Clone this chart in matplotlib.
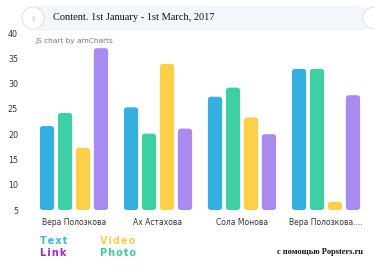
import numpy as np
import matplotlib.pyplot as plt
from matplotlib.patches import FancyBboxPatch, Ellipse

# data
authors = ['Вера Полозкова', 'Ах Астахова', 'Сола Монова', 'Вера Полозкова....']
series = ['Text', 'Photo', 'Video', 'Link']
text_vals = [21.6, 25.3, 27.4, 32.9]
photo_vals = [24.2, 20.1, 29.2, 32.9]
video_vals = [17.3, 33.9, 23.3, 6.6]
link_vals = [37.0, 21.1, 20.0, 27.7]
yticks = [5, 10, 15, 20, 25, 30, 35, 40]

colors = ['#33afe0', '#3ecfa5', '#fdd047', '#a98bf0']
legend_colors = {'Text': '#38b8e6', 'Video': '#f9cf52', 'Link': '#a524c4', 'Photo': '#3cc99c'}

fig = plt.figure(figsize=(3.75, 2.67), dpi=100)
fig.patch.set_facecolor('white')

# title band
band = FancyBboxPatch((32 / 375, 1 - 31 / 267), 338 / 375, 25 / 267,
                      boxstyle='round,pad=0,rounding_size=0.03',
                      transform=fig.transFigure, fc='#f3f6fb', ec='none')
fig.patches.append(band)
for cx in [33, 374]:
    c = Ellipse((cx / 375, 1 - 18 / 267), 22 / 375, 22 / 267, transform=fig.transFigure,
                fc='white', ec='#e2e2e2', lw=0.8)
    fig.patches.append(c)
fig.text(33 / 375, 1 - 18 / 267, '||', fontsize=4.5, color='#c0c0c0', ha='center', va='center')
fig.text(53 / 375, 1 - 18 / 267, 'Content. 1st January - 1st March, 2017',
         family='Liberation Serif', fontsize=7.5, color='#111111', va='center')
fig.text(35 / 375, 1 - 41 / 267, 'JS chart by amCharts', fontsize=5.3, color='#777777', va='center')

ax = fig.add_axes([32 / 375, (267 - 210) / 267, 336 / 375, 177 / 267])
x = np.arange(len(authors))
offs = [-0.321, -0.107, 0.107, 0.321]
w = 0.17
allvals = [text_vals, photo_vals, video_vals, link_vals]
for vals, off, col in zip(allvals, offs, colors):
    bars = ax.bar(x + off, np.array(vals) - 5, w, bottom=5, color=col)
    for b in bars:
        b.set_visible(False)
        r = FancyBboxPatch((b.get_x(), b.get_y()), b.get_width(), b.get_height(),
                           boxstyle='round,pad=0,rounding_size=0.035',
                           mutation_aspect=16.6, fc=col, ec='none')
        ax.add_patch(r)

ax.set_xlim(-0.5, 3.5)
ax.set_ylim(5, 40)
ax.set_yticks(yticks)
ax.set_xticks(x)
ax.set_xticklabels(authors, fontsize=5.5, color='#333333')
ax.tick_params(axis='y', labelsize=5.8, colors='#333333', length=0, pad=10)
ax.tick_params(axis='x', length=0, pad=6)
for s in ax.spines.values():
    s.set_visible(False)

# legend-like labels
for name, (px, py) in zip(['Text', 'Video', 'Link', 'Photo'],
                          [(40, 241), (100, 241), (40, 253), (100, 253)]):
    fig.text(px / 375, 1 - py / 267, '\u200a'.join(name), fontsize=7, fontweight='bold',
             color=legend_colors[name], va='center')
fig.text(363 / 375, 1 - 252 / 267, 'с помощью Popsters.ru', family='Liberation Serif',
         fontsize=6, fontweight='bold', color='#111111', ha='right', va='center')

fig.savefig('out.png', dpi=100)
